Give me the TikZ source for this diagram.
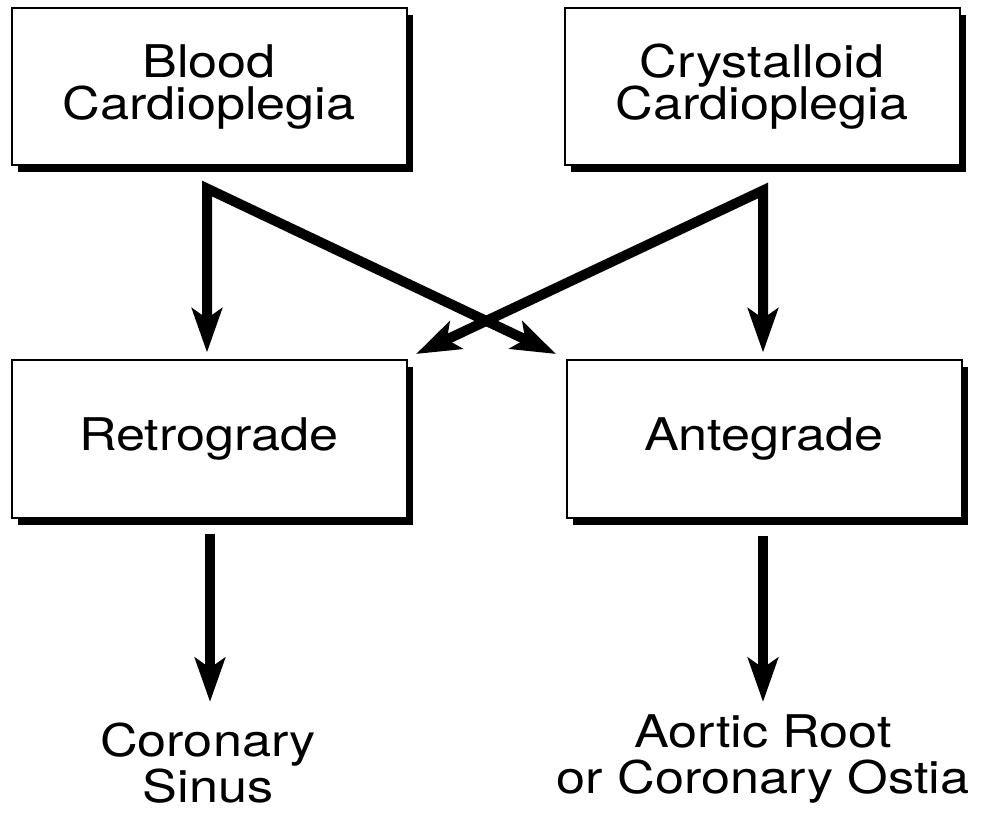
\documentclass[tikz,border=0pt]{standalone}
\usepackage{fontspec}
\setmainfont{TeX Gyre Heros}[FakeStretch=1.16]
\usepackage{tikz}
\usetikzlibrary{arrows.meta, positioning, calc, shadows}
\lineskiplimit=-20pt

\begin{document}
\begin{tikzpicture}[
    x=0.5pt, y=-0.5pt,
    >={Stealth[length=22pt, width=15pt, inset=5pt]},
    box/.style={draw, line width=1pt, fill=white, minimum width=197.5pt, minimum height=78.5pt, inner sep=0pt, align=center,
        font=\fontsize{22.5}{21}\selectfont,
        drop shadow={shadow xshift=3pt, shadow yshift=-3.5pt, fill=black, opacity=1}},
    endlabel/.style={anchor=north, inner sep=0pt, align=center, font=\fontsize{22.5}{23}\selectfont},
    flow/.style={line width=5pt, line join=miter},
]
    \useasboundingbox (0,0) rectangle (985,823);

    % Solutions
    \node[box] (blood) at (209, 87) {Blood\\Cardioplegia};
    \node[box] (cryst) at (762, 87) {Crystalloid\\Cardioplegia};

    % Routes
    \node[box] (retro) at (209, 439) {Retrograde};
    \node[box] (ante) at (764, 439) {Antegrade};

    % Sites
    \node[endlabel] (sinus) at (208, 722) {Coronary\\Sinus};
    \node[endlabel] (ostia) at (763, 714) {Aortic Root\\or Coronary Ostia};

    % Split points under the solutions
    \coordinate (bsplit) at ($(blood.south)+(-2,22)$);
    \coordinate (csplit) at ($(cryst.south)+(1,24)$);

    \draw[flow, <->] ($(retro.north)+(-2,-7)$) -- (bsplit) -- ($(ante.north west)+(-9.5,-5.5)$);
    \draw[flow, <->] ($(ante.north)+(-1,-7)$) -- (csplit) -- ($(retro.north east)+(8.5,-5.5)$);

    \draw[flow, ->] ($(retro.south)+(1,15)$) -- ($(sinus.north)+(2,-20)$);
    \draw[flow, ->] ($(ante.south)+(-1,17)$) -- ($(ostia.north)+(0,-12)$);

\end{tikzpicture}
\end{document}
